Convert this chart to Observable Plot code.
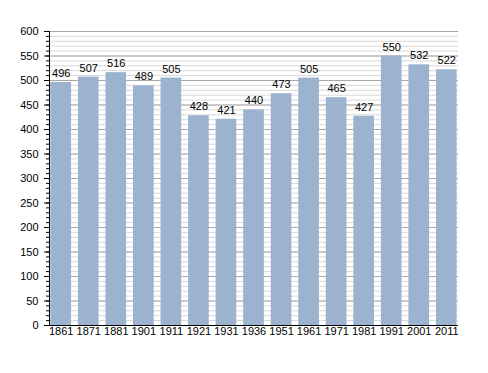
<!DOCTYPE html>
<html><head><meta charset="utf-8">
<script src="https://cdn.jsdelivr.net/npm/d3@7"></script>
<script src="https://cdn.jsdelivr.net/npm/@observablehq/plot@0.6"></script>
<style>body{margin:0;background:#fff}</style>
</head><body>
<div id="chart"></div>
<script>
const years = ["1861","1871","1881","1901","1911","1921","1931","1936","1951","1961","1971","1981","1991","2001","2011"];
const population = [496,507,516,489,505,428,421,440,473,505,465,427,550,532,522];
const majorTicks = [0,50,100,150,200,250,300,350,400,450,500,550,600];
const minorTicks = d3.range(0, 601, 10);

const data = years.map((y, i) => ({year: y, value: population[i]}));

const chart = Plot.plot({
  width: 488,
  height: 373,
  marginLeft: 49,
  marginRight: 30,
  marginTop: 31,
  marginBottom: 48,
  style: {fontFamily: "Liberation Sans, Arial, sans-serif", fontSize: "11px", color: "#000", background: "#fff"},
  x: {domain: years, paddingInner: 0.25, paddingOuter: 0.05, align: 0.5, round: false, label: null},
  y: {domain: [0, 600], label: null},
  marks: [
    Plot.gridY(minorTicks, {stroke: "#d8d8d8", strokeOpacity: 1}),
    Plot.gridY(majorTicks, {stroke: "#a8a8a8", strokeOpacity: 1}),
    Plot.barY(data, {x: "year", y: "value", fill: "#9bb3cf"}),
    Plot.text(data, {x: "year", y: "value", text: d => String(d.value), dy: -9, fontSize: 11, fill: "#000"}),
    Plot.axisY(minorTicks, {tickSize: 3, text: null, stroke: "#000"}),
    Plot.axisY(majorTicks, {tickSize: 5, tickPadding: 6, fontSize: 11, stroke: "#000", fill: "#000"}),
    Plot.axisX({tickSize: 0, tickPadding: 2, fontSize: 11, fill: "#000"}),
    Plot.frame({anchor: "left", stroke: "#000"}),
    Plot.ruleY([0], {stroke: "#000"})
  ]
});
document.getElementById("chart").append(chart);
</script>
</body></html>
